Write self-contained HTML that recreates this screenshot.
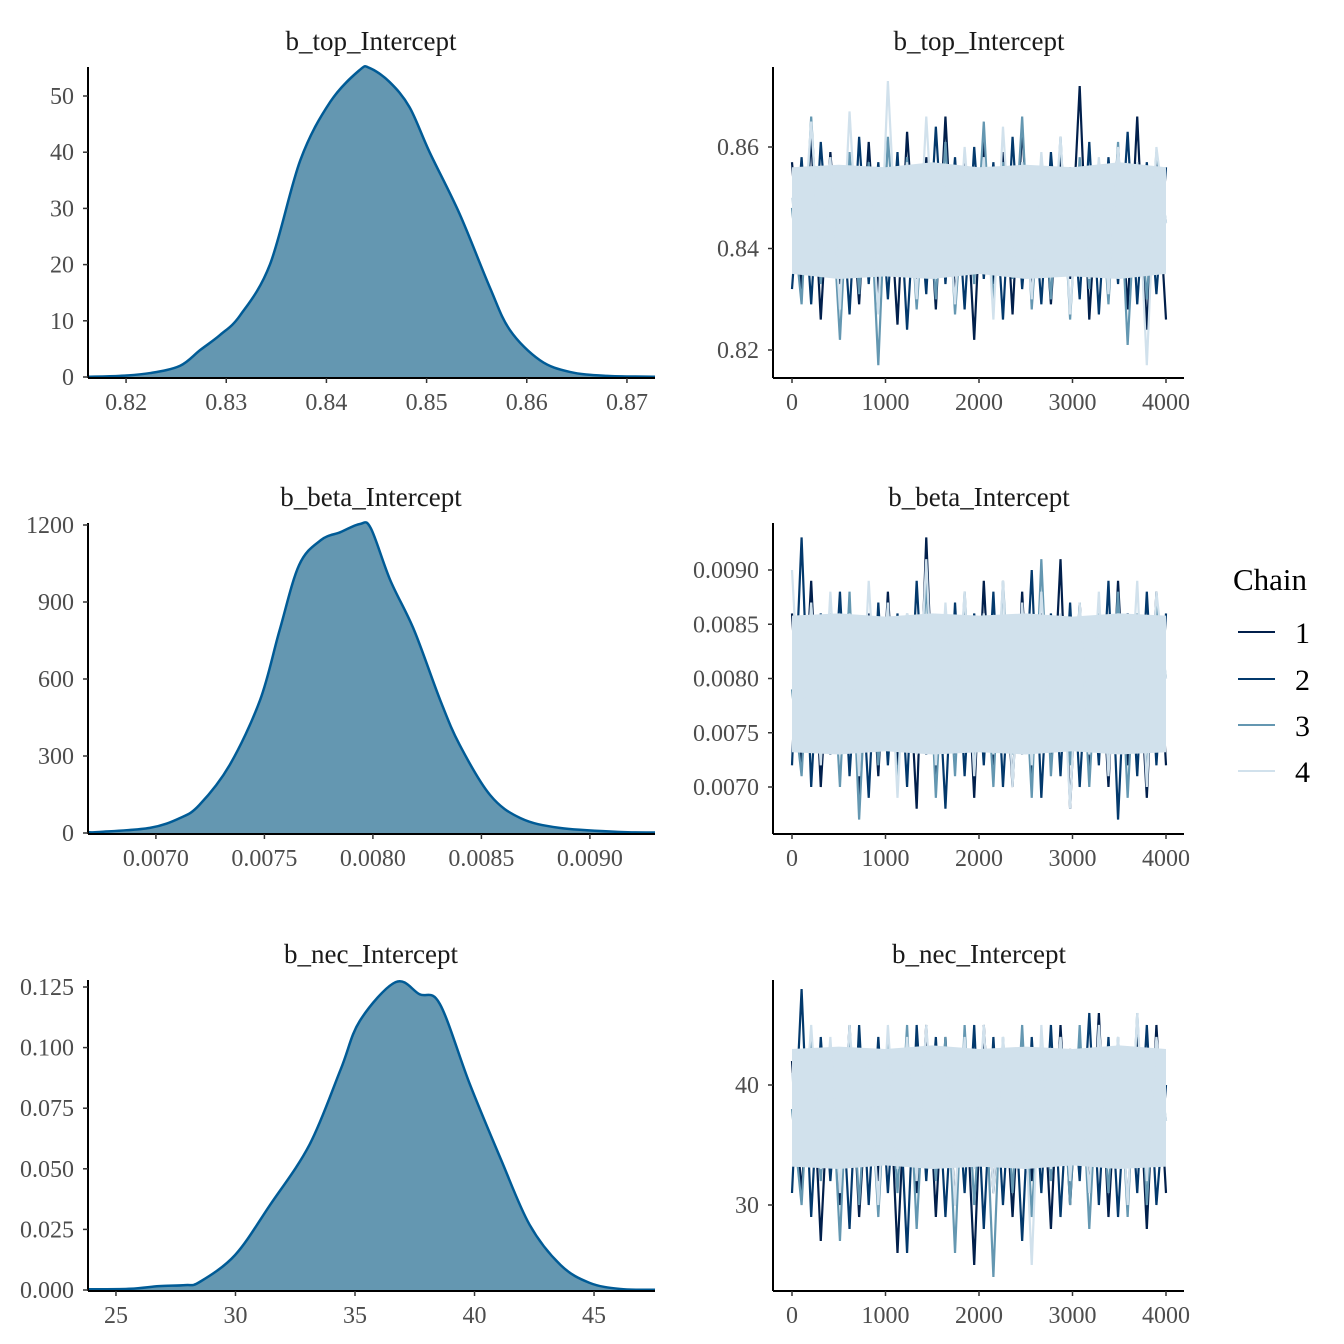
<!DOCTYPE html>
<html><head><meta charset="utf-8"><style>
html,body{margin:0;padding:0;background:#fff;}
svg{display:block;font-family:"Liberation Serif","DejaVu Serif",serif;}
</style></head><body>
<svg id="chart" width="1344" height="1344" viewBox="0 0 1344 1344" xmlns="http://www.w3.org/2000/svg">
<g>
<text x="1233" y="590" font-size="31" fill="#000">Chain</text>
<line x1="1238" y1="632" x2="1275" y2="632" stroke="#011f4b" stroke-width="2"/>
<text x="1295" y="643" font-size="30">1</text>
<line x1="1238" y1="679" x2="1275" y2="679" stroke="#03396c" stroke-width="2"/>
<text x="1295" y="690" font-size="30">2</text>
<line x1="1238" y1="725" x2="1275" y2="725" stroke="#6497b1" stroke-width="2"/>
<text x="1295" y="736" font-size="30">3</text>
<line x1="1238" y1="771" x2="1275" y2="771" stroke="#d1e1ec" stroke-width="2"/>
<text x="1295" y="782" font-size="30">4</text>
</g>
</svg>
<script>
// ---- density data ----
const topDensX=[0.8162,0.8194,0.8224,0.8254,0.8274,0.8294,0.8314,0.83436,0.8374,0.8404,0.8433,0.8443,0.8463,0.8483,0.8503,0.8533,0.8563,0.8583,0.8613,0.8643,0.868,0.8728];
const topDensY=[0.05,0.2,0.7,2,4.8,7.5,11,20,38.6,49,54.6,55,52.5,48,40,29,16,8.4,3,0.9,0.2,0.05];
const midDensX=[0.006687,0.00674,0.006972,0.00711,0.0072,0.00734,0.00748,0.00757,0.00766,0.00776,0.00785,0.00794,0.00799,0.00808,0.00819,0.00831,0.0084,0.00854,0.00868,0.00886,0.00914,0.0093];
const midDensY=[3,4,20,58,109,265,518,790,1044,1141,1172,1204,1188,985,790,518,343,148,58,20,4,2];
const botDensX=[23.83,25.6,26.8,27.9,28.5,29.98,31.44,33.1,34.4,35.2,36.7,37.7,38.55,39.8,41.1,42.3,43.6,44.8,46.1,47.55];
const botDensY=[0.0003,0.0005,0.0016,0.002,0.0033,0.0144,0.035,0.06,0.091,0.111,0.127,0.122,0.118,0.085,0.054,0.027,0.0103,0.003,0.0004,0.0001];
const topDensTicksX=[0.82,0.83,0.84,0.85,0.86,0.87];
const topDensTicksY=[0,10,20,30,40,50];
const midDensTicksX=[0.007,0.0075,0.008,0.0085,0.009];
const midDensTicksY=[0,300,600,900,1200];
const botDensTicksX=[25,30,35,40,45];
const botDensTicksY=[0,0.025,0.05,0.075,0.1,0.125];
// ---- trace data (40 samples per chain, evenly spaced over 0..4000) ----
const traceIterTicks=[0,1000,2000,3000,4000];
const topC1=[0.857,0.832,0.862,0.826,0.859,0.833,0.855,0.829,0.861,0.831,0.856,0.825,0.863,0.834,0.858,0.828,0.866,0.830,0.857,0.822,0.862,0.833,0.859,0.827,0.864,0.831,0.856,0.829,0.858,0.834,0.872,0.826,0.857,0.832,0.860,0.828,0.866,0.824,0.858,0.826];
const topC2=[0.832,0.858,0.829,0.861,0.835,0.856,0.827,0.862,0.833,0.857,0.830,0.859,0.824,0.856,0.831,0.864,0.833,0.858,0.828,0.860,0.834,0.857,0.826,0.862,0.832,0.855,0.829,0.859,0.835,0.856,0.830,0.861,0.827,0.858,0.833,0.863,0.829,0.857,0.831,0.856];
const topC3=[0.848,0.829,0.866,0.833,0.855,0.822,0.859,0.831,0.857,0.817,0.862,0.835,0.858,0.828,0.856,0.830,0.861,0.827,0.854,0.833,0.865,0.829,0.857,0.834,0.866,0.828,0.856,0.830,0.862,0.826,0.858,0.832,0.857,0.829,0.861,0.821,0.856,0.830,0.859,0.845];
const topC4=[0.850,0.838,0.865,0.836,0.858,0.828,0.867,0.835,0.856,0.827,0.873,0.836,0.857,0.830,0.866,0.834,0.855,0.829,0.860,0.836,0.858,0.826,0.864,0.835,0.857,0.830,0.859,0.836,0.862,0.827,0.856,0.834,0.858,0.831,0.860,0.836,0.857,0.817,0.860,0.845];
const topBandLo=[0.835,0.834,0.8345,0.834,0.835,0.834,0.8345,0.834,0.835];
const topBandHi=[0.856,0.8565,0.856,0.857,0.856,0.8565,0.856,0.857,0.856];
const topTraceTicksY=[0.82,0.84,0.86];
const midC1=[0.0086,0.0072,0.0089,0.0070,0.0085,0.0073,0.0087,0.0069,0.0086,0.0071,0.0088,0.0072,0.0085,0.0068,0.0093,0.0071,0.0086,0.0073,0.0087,0.0069,0.0089,0.0072,0.0085,0.0070,0.0088,0.0071,0.0086,0.0073,0.0091,0.0068,0.0087,0.0071,0.0086,0.0070,0.0089,0.0072,0.0085,0.0069,0.0088,0.0072];
const midC2=[0.0072,0.0093,0.0070,0.0086,0.0073,0.0088,0.0071,0.0085,0.0069,0.0087,0.0072,0.0086,0.0070,0.0089,0.0073,0.0085,0.0068,0.0087,0.0071,0.0086,0.0072,0.0088,0.0070,0.0085,0.0073,0.0090,0.0069,0.0086,0.0071,0.0087,0.0070,0.0085,0.0072,0.0089,0.0067,0.0086,0.0071,0.0088,0.0072,0.0086];
const midC3=[0.0079,0.0071,0.0087,0.0073,0.0086,0.0070,0.0088,0.0067,0.0085,0.0072,0.0087,0.0070,0.0086,0.0073,0.0089,0.0069,0.0086,0.0071,0.0088,0.0072,0.0085,0.0070,0.0089,0.0073,0.0086,0.0069,0.0091,0.0071,0.0085,0.0072,0.0087,0.0070,0.0086,0.0073,0.0088,0.0069,0.0086,0.0071,0.0087,0.0080];
const midC4=[0.0090,0.0074,0.0087,0.0072,0.0088,0.0073,0.0086,0.0071,0.0089,0.0074,0.0087,0.0069,0.0086,0.0073,0.0091,0.0072,0.0087,0.0074,0.0088,0.0071,0.0086,0.0073,0.0089,0.0070,0.0087,0.0072,0.0088,0.0074,0.0086,0.0068,0.0087,0.0073,0.0088,0.0071,0.0086,0.0074,0.0089,0.0070,0.0088,0.0080];
const midBandLo=[0.00732,0.0073,0.00733,0.0073,0.00732,0.0073,0.00733,0.0073,0.00732];
const midBandHi=[0.00858,0.0086,0.00857,0.0086,0.00858,0.0086,0.00857,0.0086,0.00858];
const midTraceTicksY=[0.007,0.0075,0.008,0.0085,0.009];
const botC1=[42,31,44,27,43,30,45,29,42,32,44,26,43,31,45,29,44,30,42,25,45,31,43,29,44,32,43,28,45,30,44,31,46,29,43,30,44,28,45,31];
const botC2=[31,48,29,44,32,43,28,45,30,44,31,43,26,45,32,44,29,43,31,45,28,44,30,43,27,44,31,45,29,43,32,46,30,44,29,43,31,45,30,40];
const botC3=[38,30,44,32,43,27,45,30,43,29,44,31,45,28,43,32,44,26,45,30,43,24,44,31,45,29,43,32,44,30,45,28,43,31,44,29,46,30,43,37];
const botC4=[41,34,45,33,44,31,45,34,43,30,45,33,44,32,45,34,43,30,44,33,45,31,44,34,43,25,45,33,44,32,43,31,45,33,44,30,46,32,44,37];
const botBandLo=[33.2,33,33.3,33,33.2,33,33.3,33,33.2];
const botBandHi=[43,43.2,43,43.3,43,43.2,43,43.3,43];
const botTraceTicksY=[30,40];

const NS='http://www.w3.org/2000/svg';
const svg=document.getElementById('chart');
function mk(tag,attrs,parent){const e=document.createElementNS(NS,tag);for(const k in attrs)e.setAttribute(k,attrs[k]);(parent||svg).appendChild(e);return e;}
function lin(d0,d1,r0,r1){return v=>r0+(v-d0)/(d1-d0)*(r1-r0);}
function fmt(v,dec){return v.toFixed(dec);}
function smooth(p){ // catmull-rom to bezier
  let d='';
  for(let i=0;i<p.length-1;i++){
    const p0=p[Math.max(0,i-1)],p1=p[i],p2=p[i+1],p3=p[Math.min(p.length-1,i+2)];
    const c1=[p1[0]+(p2[0]-p0[0])/6,p1[1]+(p2[1]-p0[1])/6];
    const c2=[p2[0]-(p3[0]-p1[0])/6,p2[1]-(p3[1]-p1[1])/6];
    d+=' C'+c1[0]+','+c1[1]+' '+c2[0]+','+c2[1]+' '+p2[0]+','+p2[1];
  }
  return d;
}

function axes(g,x0,x1,y0,y1,sx,sy,xt,yt,xdec,ydec){
  const xa=mk('line',{x1:x0,y1:y1,x2:x1,y2:y1,stroke:'#000','stroke-width':2},g);
  
  
  const ya=mk('line',{x1:x0,y1:y0,x2:x0,y2:y1,stroke:'#000','stroke-width':2},g);
  
  
  xt.forEach(v=>{const x=sx(v);
    mk('line',{x1:x,y1:y1,x2:x,y2:y1+5,stroke:'#333','stroke-width':1.5},g);
    const t=mk('text',{x:x,y:y1+32,'text-anchor':'middle','font-size':24,fill:'#4d4d4d'},g);
    t.textContent=fmt(v,xdec);
    
    });
  yt.forEach(v=>{const y=sy(v);
    mk('line',{x1:x0-5,y1:y,x2:x0,y2:y,stroke:'#333','stroke-width':1.5},g);
    const t=mk('text',{x:x0-14,y:y+8,'text-anchor':'end','font-size':24,fill:'#4d4d4d'},g);
    t.textContent=fmt(v,ydec);
    
    });
}
function title(g,x,y,s){const t=mk('text',{x:x,y:y,'text-anchor':'middle','font-size':27,fill:'#1a1a1a'},g);t.textContent=s;
  
  }

function density(name,ttl,xs,ys,dx0,dx1,yv0,yv1,py0,py1,top,bottom,xt,yt,xdec,ydec){
  const g=mk('g',{});
  
  
  const sx=lin(dx0,dx1,88,655), sy=lin(yv0,yv1,py0,py1);
  const pts=xs.map((x,i)=>[sx(x),sy(ys[i])]);
  const curve='M'+pts[0][0]+','+pts[0][1]+smooth(pts);
  const d='M'+sx(xs[0])+','+sy(0)+' L'+pts[0][0]+','+pts[0][1]+smooth(pts)+' L'+sx(xs[xs.length-1])+','+sy(0)+'Z';
  const a=mk('path',{d:d,fill:'#6497b1',stroke:'none'},g);
  
  
  const l=mk('path',{d:curve,fill:'none',stroke:'#005b96','stroke-width':2.5,'stroke-linejoin':'round'},g);
  
  
  axes(g,88,655,top,bottom,sx,sy,xt,yt,xdec,ydec);
  title(g,371,top-17,ttl);
}
function trace(name,ttl,chains,lo,hi,sy,top,bottom,yt,ydec){
  const g=mk('g',{});
  
  
  const sx=lin(0,4000,792,1166);
  const cols=['#011f4b','#03396c','#6497b1','#d1e1ec'];
  const bandIdx=lo.map((_,i)=>i*500);
  chains.forEach((c,ci)=>{
    if(ci===3){
      let d='M'+bandIdx.map((it,i)=>sx(it)+','+sy(hi[i])).join(' L');
      d+=' L'+bandIdx.slice().reverse().map((it,i)=>sx(it)+','+sy(lo[lo.length-1-i])).join(' L')+'Z';
      const b=mk('path',{d:d,fill:cols[3]},g);
      
      
    }
    const pts=c.map((v,i)=>sx(i*4000/(c.length-1))+','+sy(v)).join(' ');
    const l=mk('polyline',{points:pts,fill:'none',stroke:cols[ci],'stroke-width':2.2},g);
    
    
  });
  axes(g,773,1184,top,bottom,sx,sy,traceIterTicks,yt,0,ydec);
  title(g,979,top-17,ttl);
}

density('density-top','b_top_Intercept',topDensX,topDensY,0.8162,0.8728,0,50,377,96,67,378,topDensTicksX,topDensTicksY,2,0);
density('density-beta','b_beta_Intercept',midDensX,midDensY,0.006687,0.0093,0,1200,833,525,523,834,midDensTicksX,midDensTicksY,4,0);
density('density-nec','b_nec_Intercept',botDensX,botDensY,23.83,47.55,0,0.125,1290,987,980,1291,botDensTicksX,botDensTicksY,0,3);

trace('trace-top','b_top_Intercept',[topC1,topC2,topC3,topC4],topBandLo,topBandHi,lin(0.82,0.86,350,147),67,378,topTraceTicksY,2);
trace('trace-beta','b_beta_Intercept',[midC1,midC2,midC3,midC4],midBandLo,midBandHi,lin(0.007,0.009,787,570),523,834,midTraceTicksY,4);
trace('trace-nec','b_nec_Intercept',[botC1,botC2,botC3,botC4],botBandLo,botBandHi,lin(30,40,1205,1085),980,1291,botTraceTicksY,0);
</script>
</body></html>
